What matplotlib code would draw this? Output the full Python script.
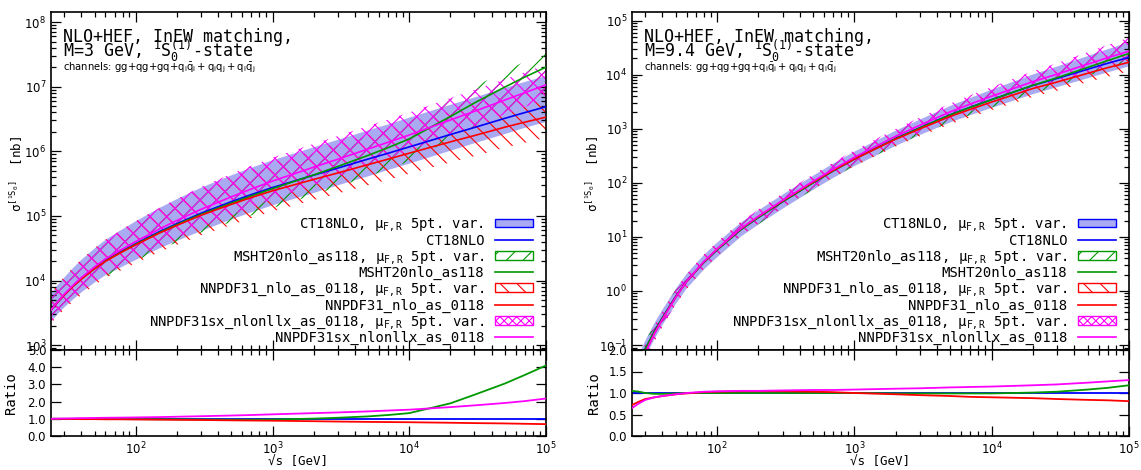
import numpy as np
import matplotlib
matplotlib.use("Agg")
import matplotlib.pyplot as plt
from matplotlib.patches import Patch
from matplotlib.lines import Line2D
from matplotlib.ticker import LogLocator, FixedLocator, FormatStrFormatter, NullFormatter

plt.rcParams['font.family'] = ['DejaVu Sans']
plt.rcParams['mathtext.fontset'] = 'custom'
plt.rcParams['mathtext.rm'] = 'DejaVu Sans Mono'
plt.rcParams['mathtext.it'] = 'DejaVu Sans Mono:italic'
plt.rcParams['mathtext.bf'] = 'DejaVu Sans Mono:bold'
plt.rcParams['hatch.linewidth'] = 0.8

MONO = 'DejaVu Sans Mono'

# ---------------- data ----------------
sqrt_s = [24, 27, 30, 35, 40, 50, 60, 80, 100, 150, 200, 300, 500, 700, 1000,
          2000, 3000, 5000, 7000, 10000, 20000, 30000, 50000, 70000, 100000]

# M = 3 GeV : CT18NLO central cross section [nb]
sigma_ct18_m3 = [3.5e3, 4.7e3, 6.0e3, 8.3e3, 1.07e4, 1.55e4, 2.04e4, 2.88e4, 3.72e4,
                 5.75e4, 7.59e4, 1.10e5, 1.66e5, 2.14e5, 2.75e5, 4.27e5, 5.50e5,
                 7.59e5, 9.33e5, 1.17e6, 1.82e6, 2.34e6, 3.24e6, 3.98e6, 4.90e6]
ratio_msht_m3 = [1.00, 1.00, 1.00, 1.00, 1.00, 0.99, 0.99, 0.98, 0.98, 0.97, 0.97, 0.96, 0.95,
                 0.95, 0.96, 1.01, 1.06, 1.14, 1.22, 1.33, 1.90, 2.40, 3.05, 3.55, 4.10]
ratio_nnpdf_m3 = [1.00, 1.00, 0.99, 0.99, 0.98, 0.98, 0.97, 0.97, 0.96, 0.95, 0.94, 0.93, 0.91,
                  0.90, 0.89, 0.86, 0.84, 0.82, 0.81, 0.80, 0.77, 0.75, 0.73, 0.71, 0.69]
ratio_nnsx_m3 = [1.00, 1.01, 1.02, 1.03, 1.04, 1.05, 1.06, 1.07, 1.08, 1.10, 1.12, 1.15, 1.19,
                 1.22, 1.26, 1.33, 1.37, 1.43, 1.48, 1.53, 1.68, 1.78, 1.92, 2.03, 2.18]
# scale-variation envelopes (upper / lower factor w.r.t. own central value)
up_ct18_m3 = [1.80, 1.82, 1.85, 1.90, 1.95, 2.02, 2.08, 2.16, 2.22, 2.32, 2.40, 2.48, 2.56,
              2.60, 2.64, 2.70, 2.73, 2.77, 2.80, 2.83, 2.88, 2.91, 2.95, 2.98, 3.00]
dn_ct18_m3 = [0.66, 0.65, 0.64, 0.62, 0.61, 0.60, 0.59, 0.57, 0.56, 0.55, 0.54, 0.53, 0.53,
              0.53, 0.53, 0.53, 0.54, 0.54, 0.55, 0.55, 0.56, 0.57, 0.57, 0.58, 0.58]
up_msht_m3 = [1.70, 1.72, 1.75, 1.78, 1.82, 1.88, 1.93, 2.00, 2.05, 2.12, 2.17, 2.22, 2.25,
              2.25, 2.24, 2.15, 2.08, 2.00, 1.95, 1.90, 1.82, 1.78, 1.75, 1.74, 1.73]
dn_msht_m3 = [0.63, 0.62, 0.61, 0.60, 0.59, 0.58, 0.57, 0.56, 0.55, 0.54, 0.53, 0.52, 0.51,
              0.50, 0.50, 0.49, 0.48, 0.47, 0.46, 0.45, 0.44, 0.43, 0.42, 0.42, 0.42]
up_nnpdf_m3 = [1.85, 1.88, 1.92, 1.98, 2.03, 2.10, 2.16, 2.25, 2.32, 2.42, 2.50, 2.58, 2.66,
               2.70, 2.74, 2.80, 2.84, 2.88, 2.90, 2.92, 2.96, 2.98, 3.00, 3.02, 3.04]
dn_nnpdf_m3 = [0.62, 0.61, 0.60, 0.58, 0.57, 0.56, 0.55, 0.53, 0.52, 0.51, 0.50, 0.49, 0.48,
               0.48, 0.48, 0.48, 0.48, 0.48, 0.48, 0.48, 0.48, 0.48, 0.48, 0.48, 0.48]
up_nnsx_m3 = [1.65, 1.68, 1.72, 1.77, 1.82, 1.88, 1.93, 2.00, 2.05, 2.12, 2.17, 2.22, 2.27,
              2.29, 2.30, 2.30, 2.29, 2.27, 2.25, 2.23, 2.18, 2.15, 2.10, 2.07, 2.04]
dn_nnsx_m3 = [0.64, 0.63, 0.62, 0.61, 0.60, 0.59, 0.58, 0.57, 0.56, 0.55, 0.54, 0.53, 0.52,
              0.52, 0.52, 0.53, 0.54, 0.55, 0.56, 0.57, 0.58, 0.59, 0.60, 0.60, 0.60]

# M = 9.4 GeV
sigma_ct18_m94 = [0.020, 0.048, 0.085, 0.182, 0.324, 0.794, 1.51, 3.39, 5.75, 13.8, 22.9,
                  44.7, 100, 166, 275, 661, 1047, 1820, 2512, 3467, 6310, 8511, 12590,
                  16220, 20890]
ratio_msht_m94 = [1.05, 1.03, 1.00, 0.98, 0.98, 0.99, 1.00, 1.00, 1.00, 1.00, 1.00, 1.00, 1.00,
                  1.00, 1.00, 0.99, 0.99, 0.99, 0.99, 0.99, 1.01, 1.03, 1.08, 1.12, 1.18]
ratio_nnpdf_m94 = [0.72, 0.80, 0.86, 0.90, 0.93, 0.97, 0.99, 1.02, 1.03, 1.04, 1.04, 1.04, 1.03,
                   1.02, 1.00, 0.97, 0.95, 0.93, 0.91, 0.90, 0.88, 0.86, 0.84, 0.83, 0.81]
ratio_nnsx_m94 = [0.65, 0.76, 0.84, 0.90, 0.93, 0.97, 1.00, 1.03, 1.04, 1.05, 1.05, 1.06, 1.07,
                  1.07, 1.08, 1.10, 1.11, 1.13, 1.14, 1.15, 1.18, 1.20, 1.24, 1.27, 1.30]
up_ct18_m94 = [1.45, 1.43, 1.41, 1.40, 1.39, 1.38, 1.37, 1.36, 1.36, 1.35, 1.35, 1.35, 1.35,
               1.36, 1.37, 1.39, 1.41, 1.45, 1.48, 1.52, 1.60, 1.66, 1.75, 1.82, 1.90]
dn_ct18_m94 = [0.70, 0.70, 0.71, 0.71, 0.72, 0.72, 0.73, 0.73, 0.73, 0.74, 0.74, 0.74, 0.74,
               0.74, 0.74, 0.73, 0.73, 0.72, 0.71, 0.70, 0.69, 0.69, 0.68, 0.68, 0.68]
up_msht_m94 = [1.40, 1.39, 1.38, 1.37, 1.36, 1.35, 1.34, 1.34, 1.33, 1.33, 1.33, 1.33, 1.33,
               1.34, 1.35, 1.36, 1.38, 1.41, 1.44, 1.47, 1.53, 1.57, 1.63, 1.67, 1.72]
dn_msht_m94 = [0.72, 0.72, 0.73, 0.73, 0.73, 0.74, 0.74, 0.74, 0.75, 0.75, 0.75, 0.75, 0.75,
               0.75, 0.75, 0.74, 0.74, 0.73, 0.72, 0.72, 0.71, 0.70, 0.70, 0.69, 0.69]
up_nnpdf_m94 = [1.42, 1.41, 1.40, 1.39, 1.38, 1.37, 1.36, 1.36, 1.35, 1.35, 1.35, 1.35, 1.35,
                1.36, 1.37, 1.39, 1.41, 1.44, 1.47, 1.50, 1.57, 1.62, 1.70, 1.76, 1.82]
dn_nnpdf_m94 = [0.71, 0.71, 0.72, 0.72, 0.73, 0.73, 0.73, 0.74, 0.74, 0.74, 0.74, 0.74, 0.74,
                0.74, 0.74, 0.73, 0.73, 0.72, 0.71, 0.71, 0.70, 0.69, 0.69, 0.68, 0.68]
up_nnsx_m94 = [1.38, 1.37, 1.36, 1.35, 1.35, 1.34, 1.34, 1.33, 1.33, 1.33, 1.33, 1.33, 1.33,
               1.34, 1.35, 1.37, 1.39, 1.42, 1.45, 1.48, 1.55, 1.60, 1.67, 1.72, 1.78]
dn_nnsx_m94 = [0.73, 0.73, 0.73, 0.74, 0.74, 0.74, 0.75, 0.75, 0.75, 0.75, 0.75, 0.75, 0.75,
               0.75, 0.75, 0.75, 0.74, 0.74, 0.73, 0.73, 0.72, 0.72, 0.71, 0.71, 0.70]

legend_labels = [
    "CT18NLO, μ$_{\\mathrm{F,R}}$ 5pt. var.",
    "CT18NLO",
    "MSHT20nlo_as118, μ$_{\\mathrm{F,R}}$ 5pt. var.",
    "MSHT20nlo_as118",
    "NNPDF31_nlo_as_0118, μ$_{\\mathrm{F,R}}$ 5pt. var.",
    "NNPDF31_nlo_as_0118",
    "NNPDF31sx_nlonllx_as_0118, μ$_{\\mathrm{F,R}}$ 5pt. var.",
    "NNPDF31sx_nlonllx_as_0118",
]

BLUE, GREEN, RED, MAG = '#0000ff', '#009900', '#ff0000', '#ff00ff'
FILL = '#aaaaf2'

panels = [
    dict(mass="3", central=sigma_ct18_m3,
         ratios=[ratio_msht_m3, ratio_nnpdf_m3, ratio_nnsx_m3],
         ups=[up_ct18_m3, up_msht_m3, up_nnpdf_m3, up_nnsx_m3],
         dns=[dn_ct18_m3, dn_msht_m3, dn_nnpdf_m3, dn_nnsx_m3],
         ylim=(8.4e2, 1.46e8), rlim=(0, 5), rticks=[0, 1, 2, 3, 4, 5],
         x0=51, x1=546, ylab_x=-0.052, rlab_x=-0.066),
    dict(mass="9.4", central=sigma_ct18_m94,
         ratios=[ratio_msht_m94, ratio_nnpdf_m94, ratio_nnsx_m94],
         ups=[up_ct18_m94, up_msht_m94, up_nnpdf_m94, up_nnsx_m94],
         dns=[dn_ct18_m94, dn_msht_m94, dn_nnpdf_m94, dn_nnsx_m94],
         ylim=(0.081, 1.47e5), rlim=(0, 2), rticks=[0, 0.5, 1.0, 1.5, 2.0],
         x0=632, x1=1129, ylab_x=-0.062, rlab_x=-0.062),
]

W, H = 1141, 470
fig = plt.figure(figsize=(W / 100, H / 100), dpi=100)

y_top, y_mid, y_bot = 11.5, 350, 436


def style_axis(ax):
    for s in ax.spines.values():
        s.set_linewidth(1.2)
    ax.tick_params(which='both', direction='in', top=True, right=True, width=0.9,
                   labelsize=8.5)
    ax.tick_params(which='major', length=7)
    ax.tick_params(which='minor', length=3.5)


for p in panels:
    left = p['x0'] / W
    width = (p['x1'] - p['x0']) / W
    ax = fig.add_axes([left, 1 - y_mid / H, width, (y_mid - y_top) / H])
    axr = fig.add_axes([left, 1 - y_bot / H, width, (y_bot - y_mid) / H], sharex=ax)

    x = np.array(sqrt_s, dtype=float)
    c = np.array(p['central'])
    centrals = [c] + [c * np.array(r) for r in p['ratios']]
    ups = [np.array(u) for u in p['ups']]
    dns = [np.array(d) for d in p['dns']]

    # bands
    ax.fill_between(x, centrals[0] * dns[0], centrals[0] * ups[0], facecolor=FILL,
                    edgecolor='none', lw=0, zorder=1)
    for cen, up, dn, col, hatch in zip(centrals[1:], ups[1:], dns[1:],
                                       [GREEN, RED, MAG], ['//', '\\\\', 'xx']):
        ax.fill_between(x, cen * dn, cen * up, facecolor='none', edgecolor=col,
                        hatch=hatch, lw=0, zorder=2)
    # central lines
    for cen, col in zip(centrals, [BLUE, GREEN, RED, MAG]):
        ax.plot(x, cen, color=col, lw=1.2, zorder=3)

    ax.set_xscale('log')
    ax.set_yscale('log')
    ax.set_xlim(24, 1e5)
    ax.set_ylim(*p['ylim'])
    ax.yaxis.set_major_locator(LogLocator(base=10, numticks=30))
    ax.yaxis.set_minor_locator(LogLocator(base=10, subs=np.arange(2, 10), numticks=300))
    ax.yaxis.set_minor_formatter(NullFormatter())
    ax.xaxis.set_major_locator(LogLocator(base=10, numticks=30))
    ax.xaxis.set_minor_locator(LogLocator(base=10, subs=np.arange(2, 10), numticks=300))
    ax.xaxis.set_minor_formatter(NullFormatter())
    style_axis(ax)
    ax.tick_params(labelbottom=False)

    ax.set_ylabel("σ$^{[^{1}\\mathrm{S}_{0}]}$  [nb]", fontfamily=MONO, fontsize=9)
    ax.yaxis.set_label_coords(p['ylab_x'], 0.52)

    # annotation
    ax.text(0.025, 0.911, "NLO+HEF, InEW matching,", transform=ax.transAxes,
            fontfamily=MONO, fontsize=12, va='baseline', ha='left')
    ax.text(0.025, 0.867, "M=%s GeV, $^{1}\\mathrm{S}_{0}^{(1)}$-state" % p['mass'],
            transform=ax.transAxes, fontfamily=MONO, fontsize=12, va='baseline', ha='left')
    ax.text(0.025, 0.828,
            "channels: gg+qg+gq+$\\mathdefault{q_i\\bar{q}_i+q_iq_j+q_i\\bar{q}_j}$",
            transform=ax.transAxes, fontsize=7.2, va='baseline', ha='left',
            math_fontfamily='dejavusans')

    handles = [
        Patch(facecolor=FILL, edgecolor=BLUE, lw=1.0),
        Line2D([], [], color=BLUE, lw=1.2),
        Patch(facecolor='none', edgecolor=GREEN, hatch='//', lw=1.0),
        Line2D([], [], color=GREEN, lw=1.2),
        Patch(facecolor='none', edgecolor=RED, hatch='\\\\', lw=1.0),
        Line2D([], [], color=RED, lw=1.2),
        Patch(facecolor='none', edgecolor=MAG, hatch='xxxx', lw=1.0),
        Line2D([], [], color=MAG, lw=1.2),
    ]
    leg = ax.legend(handles, legend_labels, loc='lower right',
                    bbox_to_anchor=(1 - 13 / (p['x1'] - p['x0']), 5 / (y_mid - y_top)),
                    markerfirst=False, frameon=False,
                    prop={'family': MONO, 'size': 10}, handlelength=2.75,
                    handleheight=0.6, handletextpad=0.75, labelspacing=0.02,
                    borderpad=0, borderaxespad=0)
    for vp in leg._legend_handle_box.get_children():
        vp.align = 'right'

    # ratio panel
    axr.axhline(1.0, color=BLUE, lw=1.3, zorder=2)
    for r, col in zip(p['ratios'], [GREEN, RED, MAG]):
        axr.plot(x, r, color=col, lw=1.3, zorder=3)
    axr.set_ylim(*p['rlim'])
    axr.yaxis.set_major_locator(FixedLocator(p['rticks']))
    axr.yaxis.set_major_formatter(FormatStrFormatter('%.1f'))
    style_axis(axr)
    axr.set_ylabel("Ratio", fontfamily=MONO, fontsize=10)
    axr.yaxis.set_label_coords(p['rlab_x'], 0.5)
    axr.set_xlabel("√s [GeV]", fontfamily=MONO, fontsize=9)
    axr.xaxis.set_label_coords(0.5, -(455 - y_bot) / (y_bot - y_mid))

fig.savefig("out.png", dpi=100)
